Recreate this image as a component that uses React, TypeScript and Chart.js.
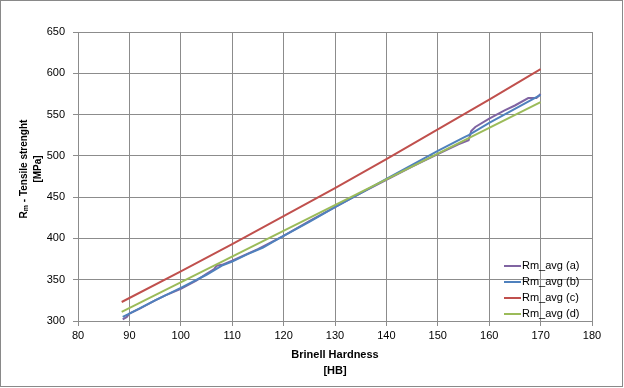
import React, { useEffect, useRef } from 'react';
import { Chart, registerables } from 'chart.js';

Chart.register(...registerables);

// ---- data ----
const seriesLabels = ['Rm_avg (a)', 'Rm_avg (b)', 'Rm_avg (c)', 'Rm_avg (d)'];
const seriesColors = ['#8064A2', '#4F81BD', '#C0504D', '#9BBB59'];

const hbA = [88.7, 89.5, 90, 92, 95, 97, 100, 103, 105, 106.5, 107, 108, 110, 115, 120, 125, 130, 135, 140, 145, 150, 154, 156, 156.5, 157.3, 160, 163, 165, 167.6, 169.2, 170];
const rmA = [302, 305, 309, 315, 325, 331, 339, 349, 357, 363, 367, 368, 373, 387, 403, 421, 438, 455, 471, 487, 502, 514, 519, 530, 535, 545, 555, 561, 570, 570, 575];

const hbB = [88.7, 90, 95, 100, 105, 108, 110, 113, 116, 118, 120, 125, 130, 135, 140, 145, 150, 155, 156, 160, 165, 170];
const rmB = [305, 309, 325, 340, 356, 367, 372, 381, 389, 396, 403, 420, 438, 455, 472, 489, 506, 522, 525, 540, 557, 574];

const hbC = [88.5, 100, 110, 120, 130, 140, 150, 160, 170];
const rmC = [323, 360, 393, 427, 461, 496, 532, 568, 605];

const hbD = [88.5, 170];
const rmD = [311, 565];

const xTicks = [80, 90, 100, 110, 120, 130, 140, 150, 160, 170, 180];
const yTicks = [300, 350, 400, 450, 500, 550, 600, 650];

const xTitle = ['Brinell Hardness', '[HB]'];
const yTitleMain = ' - Tensile strenght';
const yTitleUnit = '[MPa]';

const FONT = '"Liberation Sans", Arial, sans-serif';

const toPoints = (xs: number[], ys: number[]) => xs.map((x, i) => ({ x, y: ys[i] }));

const decorPlugin = {
  id: 'decor',
  beforeDraw(chart: any) {
    const ctx = chart.ctx;
    ctx.save();
    ctx.fillStyle = '#ffffff';
    ctx.fillRect(0, 0, chart.width, chart.height);
    ctx.restore();
  },
  afterDraw(chart: any) {
    const ctx = chart.ctx;
    const area = chart.chartArea;
    ctx.save();
    // chart border
    ctx.strokeStyle = '#898989';
    ctx.lineWidth = 1;
    ctx.strokeRect(0.5, 0.5, chart.width - 2, chart.height - 2);

    // x title
    ctx.fillStyle = '#000000';
    ctx.font = 'bold 11px ' + FONT;
    ctx.textAlign = 'center';
    ctx.textBaseline = 'middle';
    const cx = (area.left + area.right) / 2;
    ctx.fillText(xTitle[0], cx, 355);
    ctx.fillText(xTitle[1], cx, 371);

    // y title (rotated)
    ctx.save();
    ctx.translate(24, 169);
    ctx.rotate(-Math.PI / 2);
    ctx.font = 'bold 10px ' + FONT;
    const wR = ctx.measureText('R').width;
    ctx.font = 'bold 7px ' + FONT;
    const wm = ctx.measureText('m').width;
    ctx.font = 'bold 10px ' + FONT;
    const wRest = ctx.measureText(yTitleMain).width;
    const total = wR + wm + wRest;
    let px = -total / 2;
    ctx.textAlign = 'left';
    ctx.textBaseline = 'middle';
    ctx.fillText('R', px, 0);
    px += wR;
    ctx.font = 'bold 7px ' + FONT;
    ctx.fillText('m', px, 2);
    px += wm;
    ctx.font = 'bold 10px ' + FONT;
    ctx.fillText(yTitleMain, px, 0);
    ctx.textAlign = 'center';
    ctx.fillText(yTitleUnit, 0, 14);
    ctx.restore();

    // legend
    ctx.font = '11px ' + FONT;
    ctx.textAlign = 'left';
    ctx.textBaseline = 'middle';
    chart.data.datasets.forEach((ds: any, i: number) => {
      const y = 266 + i * 16;
      ctx.strokeStyle = ds.borderColor;
      ctx.lineWidth = 2;
      ctx.beginPath();
      ctx.moveTo(504, y);
      ctx.lineTo(521, y);
      ctx.stroke();
      ctx.fillStyle = '#000000';
      ctx.fillText(ds.label, 522, y);
    });
    ctx.restore();
  },
};

export default function App() {
  const ref = useRef<HTMLCanvasElement | null>(null);

  useEffect(() => {
    document.body.style.margin = '0';
    const canvas = ref.current;
    if (!canvas) return;
    const xs = [hbA, hbB, hbC, hbD];
    const ys = [rmA, rmB, rmC, rmD];
    const chart = new Chart(canvas, {
      type: 'scatter',
      data: {
        datasets: seriesLabels.map((label, i) => ({
          label,
          data: toPoints(xs[i], ys[i]),
          showLine: true,
          borderColor: seriesColors[i],
          backgroundColor: seriesColors[i],
          borderWidth: 2,
          pointRadius: 0,
          tension: 0,
          order: 3 - i,
        })),
      },
      options: {
        animation: false,
        responsive: false,
        devicePixelRatio: 1,
        layout: { padding: { top: 32, right: 32, left: 0, bottom: 0 } },
        plugins: {
          legend: { display: false },
          tooltip: { enabled: false },
          title: { display: false },
        },
        scales: {
          x: {
            type: 'linear',
            min: xTicks[0],
            max: xTicks[xTicks.length - 1],
            afterBuildTicks: (scale: any) => {
              scale.ticks = xTicks.map((v) => ({ value: v }));
            },
            afterFit: (scale: any) => {
              scale.height = 67;
            },
            ticks: {
              color: '#000000',
              font: { family: FONT, size: 11 },
              padding: 3,
              maxRotation: 0,
              autoSkip: false,
            },
            grid: { color: '#8c8c8c', lineWidth: 1, tickLength: 5, drawTicks: true },
            border: { color: '#8c8c8c', width: 1 },
          },
          y: {
            type: 'linear',
            min: yTicks[0],
            max: yTicks[yTicks.length - 1],
            afterBuildTicks: (scale: any) => {
              scale.ticks = yTicks.map((v) => ({ value: v }));
            },
            afterFit: (scale: any) => {
              scale.width = 78;
            },
            ticks: {
              color: '#000000',
              font: { family: FONT, size: 11 },
              padding: 8,
              autoSkip: false,
            },
            grid: { color: '#8c8c8c', lineWidth: 1, tickLength: 5, drawTicks: true },
            border: { color: '#8c8c8c', width: 1 },
          },
        },
      },
      plugins: [decorPlugin],
    });
    return () => chart.destroy();
  }, []);

  return <canvas ref={ref} width={624} height={388} style={{ display: 'block', width: 624, height: 388 }} />;
}
